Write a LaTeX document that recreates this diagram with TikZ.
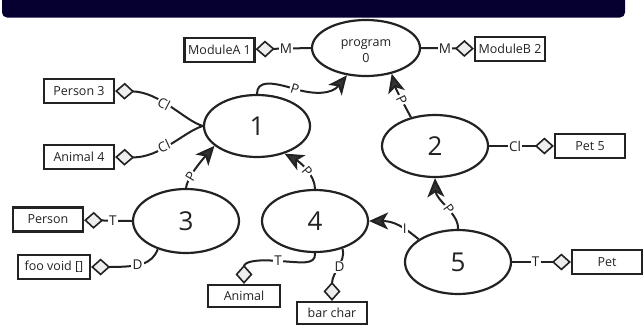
\documentclass[tikz,border=0pt]{standalone}
\usepackage{fontspec}
\setmainfont{Open Sans}
\usetikzlibrary{shapes.geometric, arrows.meta}
\definecolor{barnavy}{HTML}{050030}
\definecolor{ink}{HTML}{222222}
\definecolor{tipfill}{HTML}{333333}
\definecolor{diafill}{HTML}{EEEEEE}

\begin{document}
\begin{tikzpicture}[x=1pt, y=-1pt,
  every node/.style={font=\fontsize{12.5}{16}\selectfont, text=ink},
  cls/.style={ellipse, draw=ink, line width=2.2pt, minimum width=106pt, minimum height=62pt, inner sep=0pt},
  num/.style={font=\fontsize{26}{30}\selectfont},
  box/.style={rectangle, draw=ink, line width=2.2pt, minimum width=70pt, minimum height=24pt, inner sep=0pt},
  link/.style={draw=ink, line width=2pt},
  inherit/.style={link, -{Stealth[length=19pt, width=17pt, inset=5pt, fill=tipfill]}},
  has/.style={link, -{Diamond[length=19pt, width=17pt, fill=diafill, line width=1.6pt]}},
  lbl/.style={fill=white, inner sep=1.2pt, font=\fontsize{13.5}{16}\selectfont}]

\useasboundingbox (0,0) rectangle (644,324);
\clip (0,0) rectangle (644,324);

% title bar
\fill[barnavy, rounded corners=5pt] (2,-10) rectangle (625,17.5);

% classes
\node[cls, minimum width=108pt, minimum height=56pt] (prog) at (366,48) {};
\node[align=center] (progtext) at (366,51) {program\\0};
\node[cls, num] (n1) at (257,126) {1};
\node[cls, num] (n2) at (435,146) {2};
\node[cls, num, minimum height=64pt] (n3) at (186,221) {3};
\node[cls, num] (n4) at (315,221) {4};
\node[cls, num, minimum height=64pt] (n5) at (458,262) {5};

% type boxes
\node[box] (mA) at (219.5,50) {ModuleA 1};
\node[box] (mB) at (510,49) {ModuleB 2};
\node[box] (p3) at (79,91) {Person 3};
\node[box] (a4) at (79,157) {Animal 4};
\node[box] (p5) at (590,146) {Pet 5};
\node[box] (pe) at (48,219.5) {Person};
\node[box, minimum width=72pt] (foo) at (54,267) {foo void []};
\node[box, minimum width=72pt, minimum height=22pt] (an) at (244,296) {Animal};
\node[box, minimum height=22pt] (bar) at (332,313) {bar char};
\node[box] (pet) at (607,262) {Pet};

% parent links
\draw[inherit] (n1.north) .. controls (257,80) and (272,82) .. (295,89)
  node[lbl, sloped, pos=1] {P}
  .. controls (315,95) and (332,94) .. (prog.235);
\draw[inherit] (n2.130) .. controls (405,106) and (396,90) .. node[lbl, sloped, pos=0.45] {P} (prog.-45);
\draw[inherit] (n3.north) .. controls (187,180) and (195,168) .. node[lbl, sloped, pos=0.4] {P} (n1.-155);
\draw[inherit] (n4.north) .. controls (315,175) and (300,162) .. node[lbl, sloped, pos=0.45] {P} (n1.-45);
\draw[inherit] (n5.north) .. controls (459,214) and (436,200) .. node[lbl, sloped, pos=0.45] {P} (n2.south);
\draw[inherit] (n5.150) .. controls (405,228) and (395,221) .. node[lbl, pos=0.35] {I} (n4.east);

% member links
\draw[has] (prog.west) -- node[lbl, pos=0.45] {M} (mA);
\draw[has] (prog.east) -- node[lbl, pos=0.45] {M} (mB);
\draw[has] (n1.west) .. controls (185,121) and (160,92) .. node[lbl, sloped, pos=0.56] {Cl} (p3.east);
\draw[has] (n1.west) .. controls (185,131) and (160,158) .. node[lbl, sloped, pos=0.56] {Cl} (a4.east);
\draw[has] (n2.east) -- node[lbl, pos=0.4] {Cl} (p5);
\draw[has] (n3.west) -- node[lbl, pos=0.4] {T} (pe);
\draw[has] (n3.-135) .. controls (152,264) and (140,267) .. node[lbl, pos=0.55] {D} (foo.east);
\draw[has] (n4.south) .. controls (316,266) and (300,262) .. (278,261)
  node[lbl] {T}
  .. controls (255,259) and (244,262) .. (an.north);
\draw[has] (n4.-45) .. controls (346,262) and (332,272) .. node[lbl, pos=0.45] {D} (bar.north);
\draw[has] (n5.east) -- node[lbl, pos=0.4] {T} (pet);
\end{tikzpicture}
\end{document}
